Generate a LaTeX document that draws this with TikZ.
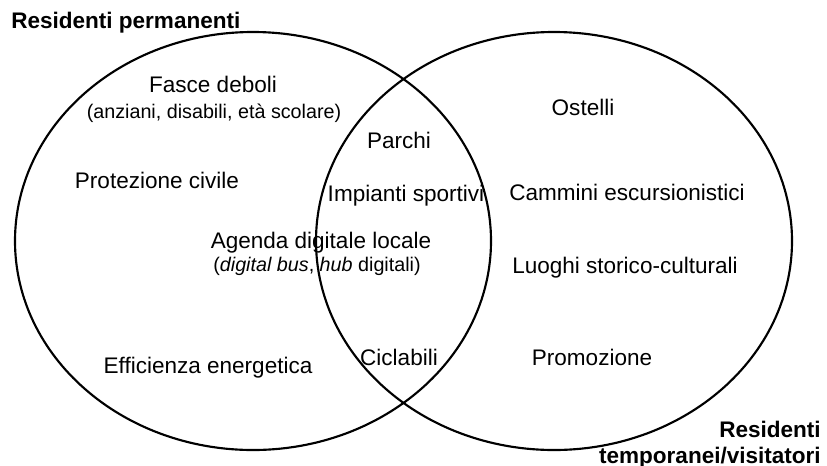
\documentclass[tikz,border=0pt]{standalone}
\usepackage{fontspec}
\setmainfont{Liberation Sans}
\usepackage{tikz}

\begin{document}
\begin{tikzpicture}[x=0.75pt,y=0.75pt,yscale=-1,xscale=1,
  venn/.style={line width=1.6pt},
  txt/.style={inner sep=0.75pt, anchor=base, font=\fontsize{16.9}{20}\selectfont},
  sub/.style={inner sep=0.75pt, anchor=base, font=\fontsize{14.8}{17}\selectfont},
  ttl/.style={inner sep=0.75pt, font=\bfseries\fontsize{16.9}{19.5}\selectfont}]
\useasboundingbox (0,0) rectangle (827,465);

%Shape: Ellipse [left set]
\draw [venn] (253,241) ellipse (238 and 209);
%Shape: Ellipse [right set]
\draw [venn] (554,241) ellipse (238 and 209);

% Text Node
\draw (10,28) node [ttl, anchor=base west] (perm) {Residenti permanenti};
% Text Node
\draw (822,463) node [ttl, anchor=base east, align=right] (temp) {Residenti\\temporanei/visitatori};

% Text Node
\draw (213,92) node [txt] (fasce) {Fasce deboli};
% Text Node
\draw (214,118) node [sub] (fascesub) {(anziani, disabili, età scolare)};
% Text Node
\draw (157,188) node [txt] (protez) {Protezione civile};
% Text Node
\draw (321,248) node [txt] (agenda) {Agenda digitale locale};
% Text Node
\draw (317,271) node [sub] (agendasub) {(\textit{digital bus}, \textit{hub} digitali)};
% Text Node
\draw (208,373) node [txt] (effic) {Efficienza energetica};

% Text Node
\draw (399,148) node [txt] (parchi) {Parchi};
% Text Node
\draw (406,201) node [txt] (impianti) {Impianti sportivi};
% Text Node
\draw (399,365) node [txt] (ciclab) {Ciclabili};

% Text Node
\draw (583,115) node [txt] (ostelli) {Ostelli};
% Text Node
\draw (627,200) node [txt] (cammini) {Cammini escursionistici};
% Text Node
\draw (625,273) node [txt] (luoghi) {Luoghi storico-culturali};
% Text Node
\draw (592,365) node [txt] (promo) {Promozione};

\end{tikzpicture}
\end{document}
